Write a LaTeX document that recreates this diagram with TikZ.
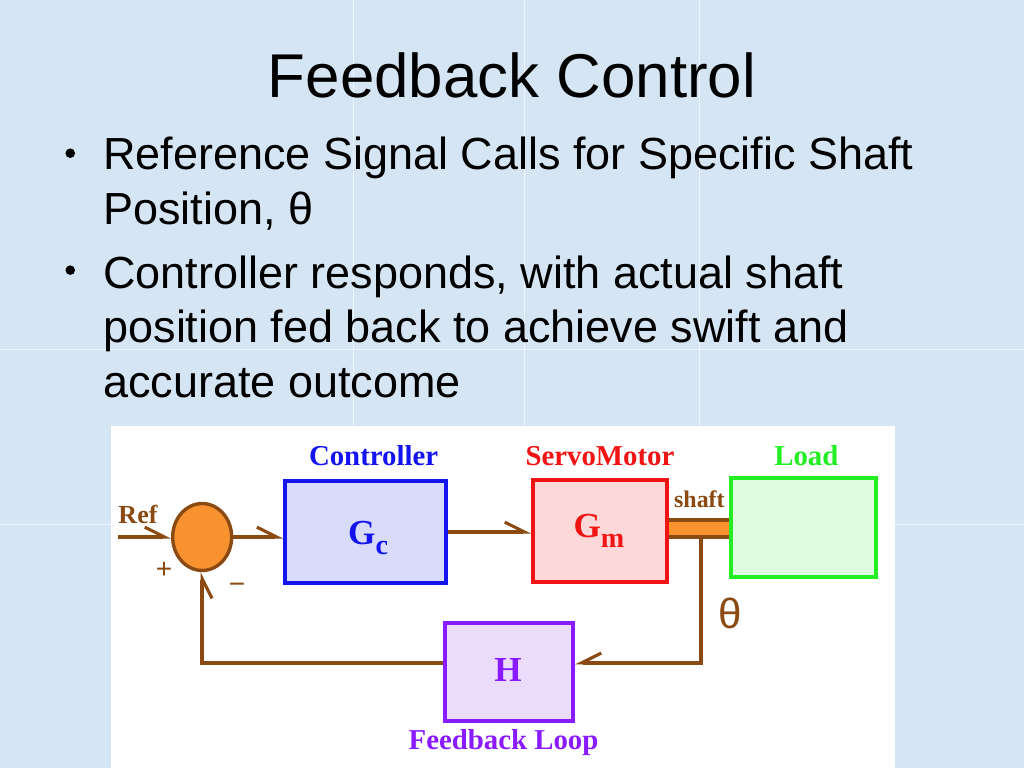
\documentclass[tikz,border=0pt]{standalone}
\usepackage{fontspec}
\setmainfont{Liberation Serif}
\setsansfont{Liberation Sans}
\usetikzlibrary{arrows.meta,shapes.geometric}
\definecolor{slidebg}{HTML}{D5E5F3}
\definecolor{wire}{HTML}{8A4A12}
\definecolor{sumorange}{HTML}{F7922F}
\definecolor{ctrlblue}{HTML}{1414F0}
\definecolor{ctrlfill}{HTML}{D8DCFA}
\definecolor{motorred}{HTML}{F01414}
\definecolor{motorfill}{HTML}{FCD8D8}
\definecolor{loadgreen}{HTML}{22EE22}
\definecolor{loadfill}{HTML}{E0FCE0}
\definecolor{loopviolet}{HTML}{8A1AFF}
\definecolor{loopfill}{HTML}{ECDCFC}
\tikzset{
	block/.style={draw, line width=2.8pt, inner sep=0pt},
	wireline/.style={draw=wire, line width=2.6pt},
	tipL/.style={-{Straight Barb[harpoon,length=14pt,width=14pt,line width=2.2pt]}},
	tipR/.style={-{Straight Barb[harpoon,swap,length=14pt,width=14pt,line width=2.2pt]}},
	blocklabel/.style={font=\fontsize{20.5}{24}\selectfont\bfseries, anchor=base, inner sep=0pt},
	gainlabel/.style={font=\fontsize{25}{28}\selectfont\bfseries, anchor=base, inner sep=0pt},
	bulletdot/.style={circle, fill=black, minimum size=0.24cm, inner sep=0pt},
	bullettext/.style={font=\sffamily\fontsize{32}{38.8}\selectfont, align=left, anchor=base west, inner sep=0pt},
}
\newcommand{\gsub}[1]{\raisebox{-0.25cm}{\fontsize{20}{20}\selectfont #1}}
\begin{document}
\begin{tikzpicture}[x=0.025cm, y=-0.025cm]
	\fill[slidebg] (0,0) rectangle (1024,768);
	\foreach \sx in {353,524,699}
		\draw[white, opacity=0.6, line width=0.4pt] (\sx,0) -- (\sx,768);
	\foreach \sy in {349,524}
		\draw[white, opacity=0.6, line width=0.4pt] (0,\sy) -- (1024,\sy);
	\useasboundingbox (0,0) rectangle (1024,768);

	\node[anchor=base, inner sep=0pt, font=\sffamily\fontsize{44}{52}\selectfont] (title) at (512,97) {Feedback Control};
	\node[bulletdot] (dot1) at (70,153) {};
	\node[bullettext] (item1) at (103,224) {Reference Signal Calls for Specific Shaft\\Position, θ};
	\node[bulletdot] (dot2) at (70,270) {};
	\node[bullettext] (item2) at (103,397) {Controller responds, with actual shaft\\position fed back to achieve swift and\\accurate outcome};

	\fill[white] (111,426) rectangle (895,768);

	\node[fill=sumorange, minimum width=1.5cm, minimum height=0.425cm, inner sep=0pt] (shaft) at (699,528.5) {};
	\draw[wire, line width=2.8pt] (shaft.north west) -- (shaft.north east);
	\draw[wire, line width=2.8pt] (shaft.south west) -- (shaft.south east);

	\node[ellipse, draw=wire, fill=sumorange, line width=2.4pt, minimum width=1.475cm, minimum height=1.675cm, inner sep=0pt] (sum) at (202,537) {};
	\node[block, draw=ctrlblue, fill=ctrlfill, minimum width=4.025cm, minimum height=2.55cm] (Gc) at (365.5,532) {};
	\node[block, draw=motorred, fill=motorfill, minimum width=3.35cm, minimum height=2.55cm] (Gm) at (600,531) {};
	\node[block, draw=loadgreen, fill=loadfill, minimum width=3.625cm, minimum height=2.475cm] (load) at (803.5,527.5) {};
	\node[block, draw=loopviolet, fill=loopfill, minimum width=3.2cm, minimum height=2.45cm] (H) at (509,672) {};

	\node[gainlabel, ctrlblue] (GcText) at (368,545) {G\gsub{c}};
	\node[gainlabel, motorred] (GmText) at (599,538) {G\gsub{m}};
	\node[gainlabel, loopviolet] (HText) at (508,682) {H};

	\node[blocklabel, ctrlblue] (ctrlname) at (373.5,465) {Controller};
	\node[blocklabel, motorred] (motorname) at (600,465) {ServoMotor};
	\node[blocklabel, loadgreen] (loadname) at (806.5,465) {Load};
	\node[blocklabel, loopviolet] (loopname) at (503.5,750) {Feedback Loop};
	\node[anchor=base west, inner sep=0pt, wire, font=\bfseries\fontsize{18.5}{20}\selectfont] (refname) at (118,523) {Ref};
	\node[anchor=base west, inner sep=0pt, wire, font=\bfseries\fontsize{17}{20}\selectfont] (shaftname) at (674,507) {shaft};
	\node[wire, inner sep=0pt, font=\sffamily\fontsize{20}{22}\selectfont] (plus) at (164,570) {+};
	\node[wire, inner sep=0pt, font=\sffamily\fontsize{20}{22}\selectfont] (minus) at (237,588) {−};
	\node[wire, inner sep=0pt, font=\sffamily\fontsize{30}{32}\selectfont] (theta) at (730,613) {θ};

	\coordinate (refin) at (118,537);
	\coordinate (tap) at (701,663);
	\draw[wireline, tipL] (refin) -- (sum.west);
	\draw[wireline, tipL] (sum.east) -- (Gc.west |- sum.east);
	\draw[wireline, tipL] (Gc.east) -- (Gc.east -| Gm.west);
	\draw[wireline, tipR] (shaft.south -| tap) -- (tap) -- (tap -| H.east);
	\draw[wireline, tipR] (H.west |- tap) -- (sum.south |- tap) -- (sum.south);
\end{tikzpicture}
\end{document}
